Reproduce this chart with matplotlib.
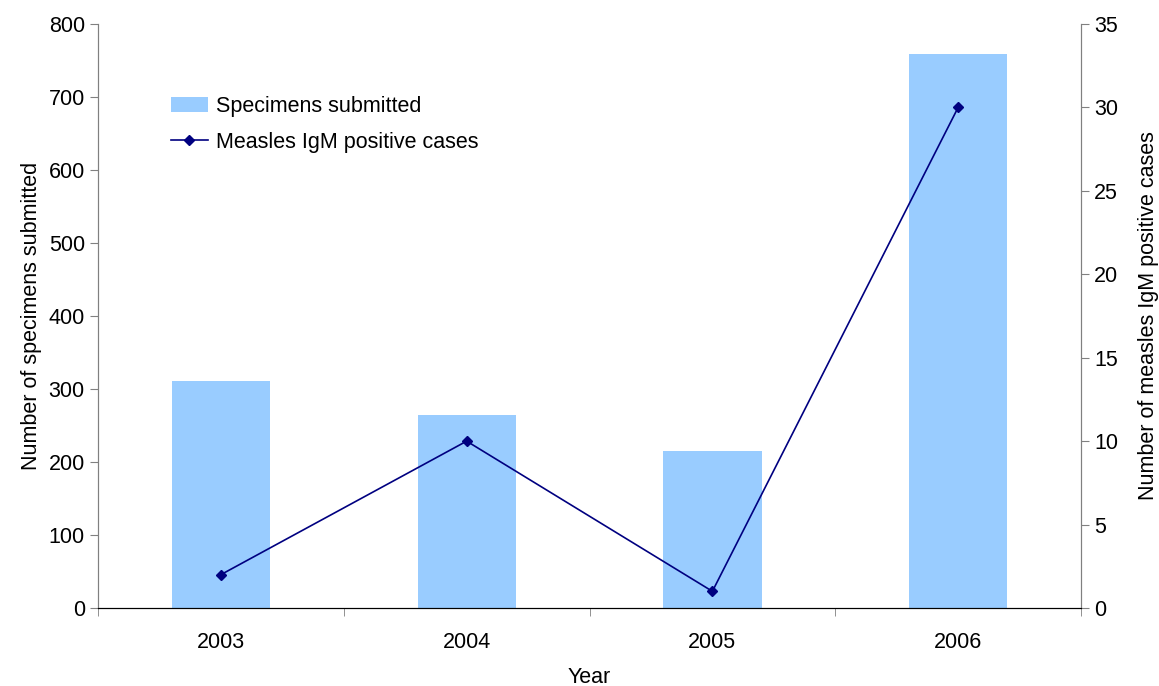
import numpy as np
import matplotlib.pyplot as plt

plt.rcParams['font.family'] = ['Liberation Sans', 'DejaVu Sans']

years = ['2003', '2004', '2005', '2006']
specimens = [311, 264, 215, 759]
igm_positive = [2, 10, 1, 30]

x = np.arange(len(years))

fig = plt.figure(figsize=(11.59, 6.86), dpi=100)
ax = fig.add_axes([0.0846, 0.1137, 0.8481, 0.8513])
ax2 = ax.twinx()

bars = ax.bar(x, specimens, width=0.4, color='#99CCFF', label='Specimens submitted', zorder=1)
line, = ax2.plot(x, igm_positive, color='#000080', lw=1.2, marker='D', markersize=5,
                 label='Measles IgM positive cases')

ax.set_xlim(-0.5, 3.5)
ax.set_ylim(0, 800)
ax.set_yticks(np.arange(0, 801, 100))
ax2.set_ylim(0, 35)
ax2.set_yticks(np.arange(0, 36, 5))

# category labels centred, tick marks between categories
ax.set_xticks(x)
ax.set_xticklabels(years)
ax.set_xticks(np.arange(-0.5, 3.6, 1), minor=True)
ax.tick_params(axis='x', which='major', length=0, labelsize=15.5, pad=17)
ax.tick_params(axis='x', which='minor', length=6, direction='out', color='#808080')
ax.tick_params(axis='y', length=6, direction='out', labelsize=15.5, color='#808080')
ax2.tick_params(axis='y', length=6, direction='out', labelsize=15.5, color='#808080')

for a in (ax, ax2):
    a.spines['top'].set_visible(False)
    a.spines['left'].set_color('#808080')
    a.spines['right'].set_color('#808080')
    a.spines['bottom'].set_color('black')

ax.set_xlabel('Year', fontsize=15.5, labelpad=10)
ax.set_ylabel('Number of specimens submitted', fontsize=15.5, labelpad=5)
ax2.set_ylabel('Number of measles IgM positive cases', fontsize=15.5, labelpad=14)

ax2.legend([bars, line], ['Specimens submitted', 'Measles IgM positive cases'],
           loc='upper left', bbox_to_anchor=(0.054, 0.91), frameon=False, fontsize=15.5,
           handlelength=1.75, handleheight=0.75, labelspacing=0.68, handletextpad=0.35)

fig.savefig('out.png', dpi=100)
